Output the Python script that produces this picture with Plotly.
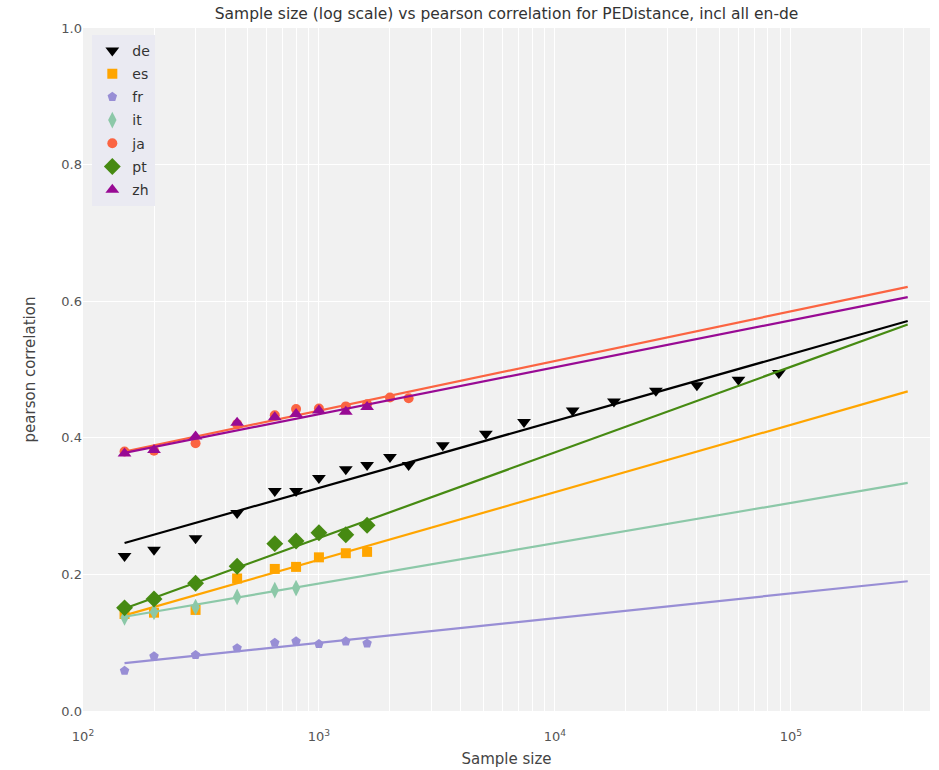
import plotly.graph_objects as go

langs = ["de", "es", "fr", "it", "ja", "pt", "zh"]

small_x = [150, 200, 300, 450, 650, 800, 1000, 1300, 1600]

de_x = [150, 200, 300, 450, 650, 800, 1000, 1300, 1600, 2000, 2400,
        3350, 5100, 7400, 11900, 17800, 26800, 40000, 60000, 89000]
de_y = [0.227, 0.236, 0.253, 0.290, 0.322, 0.322, 0.341, 0.354, 0.360, 0.372, 0.360,
        0.389, 0.406, 0.423, 0.440, 0.453, 0.469, 0.477, 0.485, 0.495]
es_x = small_x
es_y = [0.142, 0.144, 0.148, 0.194, 0.208, 0.211, 0.225, 0.231, 0.233]
fr_x = small_x
fr_y = [0.059, 0.080, 0.082, 0.092, 0.100, 0.102, 0.098, 0.102, 0.099]
it_x = [150, 200, 300, 450, 650, 800]
it_y = [0.137, 0.145, 0.152, 0.167, 0.177, 0.180]
ja_x = [150, 200, 300, 450, 650, 800, 1000, 1300, 1600, 2000, 2400]
ja_y = [0.380, 0.381, 0.392, 0.420, 0.433, 0.442, 0.443, 0.446, 0.449, 0.459, 0.458]
pt_x = small_x
pt_y = [0.151, 0.164, 0.187, 0.212, 0.245, 0.249, 0.261, 0.258, 0.272]
zh_x = small_x
zh_y = [0.377, 0.382, 0.402, 0.422, 0.430, 0.435, 0.440, 0.438, 0.445]

# fitted lines (value at first and last x)
fit_x = [150, 313000]
de_fit = [0.246, 0.571]
es_fit = [0.140, 0.468]
fr_fit = [0.070, 0.190]
it_fit = [0.138, 0.334]
ja_fit = [0.380, 0.621]
pt_fit = [0.150, 0.566]
zh_fit = [0.378, 0.606]

xtick_vals = [m * 10 ** e for e in range(2, 6) for m in range(1, 10)]
xtick_text = ["10<sup>%d</sup>" % e if m == 1 else "" for e in range(2, 6) for m in range(1, 10)]
ytick_vals = [0.0, 0.2, 0.4, 0.6, 0.8, 1.0]
ytick_text = ["0.0", "0.2", "0.4", "0.6", "0.8", "1.0"]

series = {
    "de": (de_x, de_y, de_fit),
    "es": (es_x, es_y, es_fit),
    "fr": (fr_x, fr_y, fr_fit),
    "it": (it_x, it_y, it_fit),
    "ja": (ja_x, ja_y, ja_fit),
    "pt": (pt_x, pt_y, pt_fit),
    "zh": (zh_x, zh_y, zh_fit),
}
colors = {"de": "#000000", "es": "#FFA500", "fr": "#988ED5", "it": "#8CC8A8",
          "ja": "#FB6442", "pt": "#468A12", "zh": "#980A94"}
symbols = {"de": "triangle-down", "es": "square", "fr": "pentagon", "it": "diamond-tall",
           "ja": "circle", "pt": "diamond", "zh": "triangle-up"}
msize = {"de": 12, "es": 10, "fr": 10, "it": 12, "ja": 10, "pt": 13, "zh": 12}

fig = go.Figure()
for lang in langs:
    x, y, fit = series[lang]
    fig.add_trace(go.Scatter(x=x, y=y, mode="markers", name=lang, legendgroup=lang,
                             marker=dict(symbol=symbols[lang], color=colors[lang],
                                         size=msize[lang], line=dict(width=0))))
    fig.add_trace(go.Scatter(x=fit_x, y=fit, mode="lines", showlegend=False,
                             legendgroup=lang,
                             line=dict(color=colors[lang], width=2.2), hoverinfo="skip"))

fig.update_layout(
    width=939, height=770,
    margin=dict(l=83, r=9, t=28, b=59, autoexpand=False),
    paper_bgcolor="white",
    plot_bgcolor="#F1F1F1",
    font=dict(family="DejaVu Sans", color="#444444", size=13),
    title=dict(text="Sample size (log scale) vs pearson correlation for PEDistance, incl all en-de",
               x=0.5395, xanchor="center", y=0.982, yanchor="middle", yref="container",
               font=dict(size=15.5, color="#333333")),
    xaxis=dict(type="log", range=[2, 5.59], tickvals=xtick_vals, ticktext=xtick_text,
               showgrid=True, gridcolor="white", gridwidth=1, zeroline=False,
               showline=False, ticks="", tickfont=dict(size=13, color="#555555"),
               automargin=False, ticklabelstandoff=16,
               title=dict(text="Sample size", font=dict(size=15, color="#444444"), standoff=10)),
    yaxis=dict(range=[0, 1], tickvals=ytick_vals, ticktext=ytick_text,
               showgrid=True, gridcolor="white", gridwidth=1, zeroline=False,
               showline=False, ticks="", tickfont=dict(size=13, color="#555555"),
               automargin=False,
               title=dict(text="pearson correlation", font=dict(size=15, color="#444444"), standoff=22)),
    legend=dict(x=0.011, y=0.99, xanchor="left", yanchor="top",
                bgcolor="#EAEAF2", borderwidth=0,
                font=dict(size=14, color="#333333"), tracegroupgap=2, itemwidth=30),
    showlegend=True,
)

fig.write_html("out.html", config={"displayModeBar": False},
               post_script="document.body.style.margin='0px';document.body.style.overflow='hidden';")
